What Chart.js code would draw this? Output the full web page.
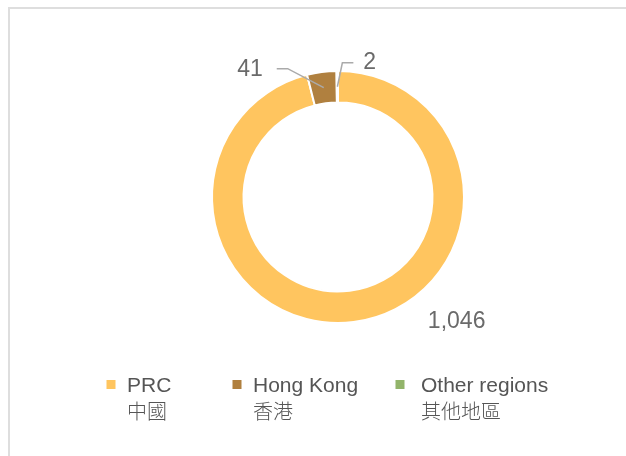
<!DOCTYPE html>
<html>
<head>
<meta charset="utf-8">
<script src="https://cdn.jsdelivr.net/npm/chart.js@4/dist/chart.umd.min.js"></script>
<style>
  html, body { margin: 0; padding: 0; background: #fff; overflow: hidden; }
  #frame { position: absolute; left: 8px; top: 7px; width: 700px; height: 600px; border: 2px solid #dedede; }
  #chart { position: absolute; left: 0; top: 0; }
</style>
</head>
<body>
<div id="frame"></div>
<canvas id="chart" width="626" height="456"></canvas>
<script>
const labels = ['PRC', 'Hong Kong', 'Other regions'];
const labelsZh = ['中國', '香港', '其他地區'];
const values = [1046, 41, 2];
const valueText = ['1,046', '41', '2'];

const colors = ['#ffc55f', '#b0803f', '#92b46a'];

// label placement, offsets from the middle of each ring segment
const callouts = [
  { text: [105, 15], align: 'center' },
  { elbow: [-36, -19], end: [-47, -19], text: [-61, -18], align: 'right' },
  { elbow: [5, -24], end: [16, -24], text: [26, -24], align: 'left' },
];
const legendMarkX = [111, 237, 400];
const legendTextX = [127, 253, 421];

const calloutPlugin = {
  id: 'callouts',
  afterDatasetsDraw(chart) {
    const ctx = chart.ctx;
    const arcs = chart.getDatasetMeta(0).data;
    ctx.save();
    arcs.forEach((arc, i) => {
      const c = callouts[i];
      const mid = (arc.startAngle + arc.endAngle) / 2;
      const r = (arc.innerRadius + arc.outerRadius) / 2;
      const ax = arc.x + Math.cos(mid) * r;
      const ay = arc.y + Math.sin(mid) * r;
      if (c.elbow) {
        ctx.strokeStyle = '#aaaaaa';
        ctx.lineWidth = 1.5;
        ctx.beginPath();
        ctx.moveTo(ax, ay);
        ctx.lineTo(ax + c.elbow[0], ay + c.elbow[1]);
        ctx.lineTo(ax + c.end[0], ay + c.end[1]);
        ctx.stroke();
      }
      ctx.fillStyle = '#6a6a6a';
      ctx.font = '23px "Liberation Sans", Arial, sans-serif';
      ctx.textAlign = c.align;
      ctx.textBaseline = 'middle';
      ctx.fillText(valueText[i], ax + c.text[0], ay + c.text[1]);
    });

    // legend
    const top = 385;
    labels.forEach((lab, i) => {
      ctx.fillStyle = colors[i];
      ctx.fillRect(legendMarkX[i] - 4.5, top - 5, 9, 9);
      ctx.fillStyle = '#555';
      ctx.textAlign = 'left';
      ctx.textBaseline = 'middle';
      ctx.font = '21px "Liberation Sans", Arial, sans-serif';
      ctx.fillText(lab, legendTextX[i], top + 1);
      ctx.font = '300 20px "Noto Sans CJK TC", sans-serif';
      ctx.fillText(labelsZh[i], legendTextX[i], top + 26);
    });
    ctx.restore();
  }
};

new Chart(document.getElementById('chart'), {
  type: 'doughnut',
  data: {
    labels: labels,
    datasets: [{
      data: values,
      backgroundColor: colors,
      borderColor: '#ffffff',
      borderWidth: 2,
    }]
  },
  options: {
    responsive: false,
    animation: false,
    radius: 126,
    cutout: '75%',
    layout: { padding: { left: 100, right: 50, top: 60, bottom: 122 } },
    plugins: {
      legend: { display: false },
      tooltip: { enabled: false },
    }
  },
  plugins: [calloutPlugin]
});
</script>
</body>
</html>
